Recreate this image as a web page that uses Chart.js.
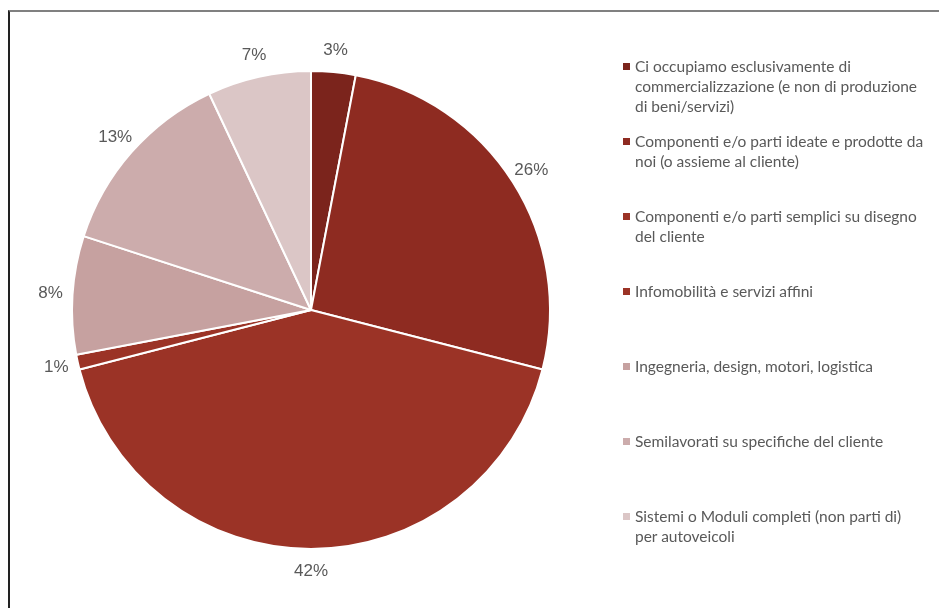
<!DOCTYPE html>
<html>
<head>
<meta charset="utf-8">
<script src="https://cdn.jsdelivr.net/npm/chart.js@4"></script>
<style>
  body { margin: 0; background: #fff; width: 939px; height: 608px; overflow: hidden; position: relative; }
  #frame { position: absolute; left: 8px; top: 10px; right: 0; bottom: 0; border-top: 2px solid #808080; border-left: 2px solid #222; }
  #chartBox { position: absolute; left: 0; top: 0; width: 939px; height: 608px; }
  #legend { position: absolute; left: 622px; top: 56px; width: 317px; font-family: Lato, "Open Sans", sans-serif; font-size: 15.5px; color: #595959; }
  .item { position: absolute; left: 0; line-height: 20px; padding-left: 13px; white-space: nowrap; }
  .item span.box { position: absolute; left: 1px; top: 7px; width: 7px; height: 7px; }
</style>
</head>
<body>
<div id="frame"></div>
<div id="chartBox"><canvas id="pie"></canvas></div>
<div id="legend"></div>
<script>
const categories = [
  ["Ci occupiamo esclusivamente di", "commercializzazione (e non di produzione", "di beni/servizi)"],
  ["Componenti e/o parti ideate e prodotte da", "noi (o assieme al cliente)"],
  ["Componenti e/o parti semplici su disegno", "del cliente"],
  ["Infomobilità e servizi affini"],
  ["Ingegneria, design, motori, logistica"],
  ["Semilavorati su specifiche del cliente"],
  ["Sistemi o Moduli completi (non parti di)", "per autoveicoli"]
];
const shares = [3, 26, 42, 1, 8, 13, 7];
const colors = ["#7b241c", "#8e2b21", "#9b3326", "#9b3326", "#c6a1a0", "#ccacac", "#dbc6c6"];

// percentage labels just outside each slice
const outsideLabels = {
  id: "outsideLabels",
  afterDatasetsDraw(chart) {
    const ctx = chart.ctx;
    const meta = chart.getDatasetMeta(0);
    ctx.save();
    ctx.font = "17px 'Liberation Sans', Arial, sans-serif";
    ctx.fillStyle = "#595959";
    ctx.textAlign = "center";
    ctx.textBaseline = "middle";
    meta.data.forEach((arc, i) => {
      const p = arc.getProps(["x", "y", "startAngle", "endAngle", "outerRadius"], true);
      const mid = (p.startAngle + p.endAngle) / 2;
      const d = p.outerRadius + 22;
      ctx.fillText(shares[i] + "%", p.x + Math.cos(mid) * d, p.y + Math.sin(mid) * d);
    });
    ctx.restore();
  }
};

new Chart(document.getElementById("pie").getContext("2d"), {
  type: "pie",
  data: {
    labels: categories,
    datasets: [{
      data: shares,
      backgroundColor: colors,
      borderColor: "#ffffff",
      borderWidth: 2
    }]
  },
  options: {
    responsive: true,
    maintainAspectRatio: false,
    animation: false,
    layout: { padding: { left: 71, right: 388, top: 70, bottom: 58 } },
    plugins: { legend: { display: false }, tooltip: { enabled: false } }
  },
  plugins: [outsideLabels]
});

const legend = document.getElementById("legend");
categories.forEach((lines, i) => {
  const div = document.createElement("div");
  div.className = "item";
  div.style.top = (i * 75) + "px";
  div.innerHTML = '<span class="box" style="background:' + colors[i] + '"></span>' + lines.join("<br>");
  legend.appendChild(div);
});
</script>
</body>
</html>
